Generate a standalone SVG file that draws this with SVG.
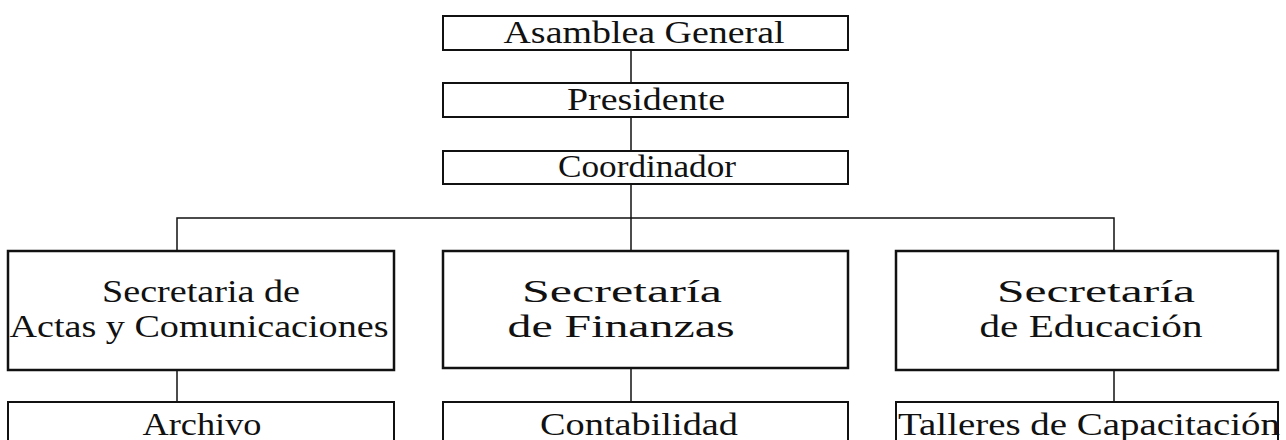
<svg xmlns="http://www.w3.org/2000/svg" width="1286" height="440" viewBox="0 0 1286 440">
<style>
.box{fill:#fff;stroke:#111;stroke-width:2}
.box2{fill:#fff;stroke:#111;stroke-width:2.5}
.t{font-family:"Liberation Serif","Times New Roman",serif;font-size:32px;fill:#111;text-anchor:middle}
.c{stroke:#111;stroke-width:1.5;fill:none}
</style>
<rect width="1286" height="440" fill="#fff"/>
<g id="connectors">
<line class="c" x1="631" y1="50" x2="631" y2="83"/>
<line class="c" x1="631" y1="117" x2="631" y2="151"/>
<line class="c" x1="631" y1="184" x2="631" y2="251"/>
<polyline class="c" points="177,251 177,218 1114,218 1114,251"/>
<line class="c" x1="177" y1="370" x2="177" y2="402"/>
<line class="c" x1="631" y1="368" x2="631" y2="402"/>
<line class="c" x1="1114" y1="370" x2="1114" y2="402"/>
</g>
<g id="asamblea">
<rect class="box" x="443" y="16" width="405" height="34"/>
<text class="t" x="644" y="43" textLength="281" lengthAdjust="spacingAndGlyphs">Asamblea General</text>
</g>
<g id="presidente">
<rect class="box" x="443" y="83" width="405" height="34"/>
<text class="t" x="646" y="110" textLength="158" lengthAdjust="spacingAndGlyphs">Presidente</text>
</g>
<g id="coordinador">
<rect class="box" x="443" y="151" width="405" height="33"/>
<text class="t" x="647" y="177" textLength="178" lengthAdjust="spacingAndGlyphs">Coordinador</text>
</g>
<g id="actas">
<rect class="box2" x="8" y="251" width="386" height="119"/>
<text class="t" x="201" y="302" textLength="198" lengthAdjust="spacingAndGlyphs">Secretaria de</text>
<text class="t" x="199" y="337" textLength="379" lengthAdjust="spacingAndGlyphs">Actas y Comunicaciones</text>
</g>
<g id="finanzas">
<rect class="box2" x="443" y="251" width="405" height="117"/>
<text class="t" x="622" y="302" textLength="200" lengthAdjust="spacingAndGlyphs">Secretaría</text>
<text class="t" x="621" y="337" textLength="227" lengthAdjust="spacingAndGlyphs">de Finanzas</text>
</g>
<g id="educacion">
<rect class="box2" x="896" y="251" width="382" height="119"/>
<text class="t" x="1096" y="302" textLength="198" lengthAdjust="spacingAndGlyphs">Secretaría</text>
<text class="t" x="1091" y="337" textLength="223" lengthAdjust="spacingAndGlyphs">de Educación</text>
</g>
<g id="archivo">
<rect class="box" x="8" y="402" width="386" height="50"/>
<text class="t" x="202" y="435" textLength="119" lengthAdjust="spacingAndGlyphs">Archivo</text>
</g>
<g id="contabilidad">
<rect class="box" x="443" y="402" width="405" height="50"/>
<text class="t" x="639" y="435" textLength="198" lengthAdjust="spacingAndGlyphs">Contabilidad</text>
</g>
<g id="talleres">
<rect class="box" x="896" y="402" width="382" height="50"/>
<text class="t" x="1089" y="435" textLength="382" lengthAdjust="spacingAndGlyphs">Talleres de Capacitación</text>
</g>
</svg>
